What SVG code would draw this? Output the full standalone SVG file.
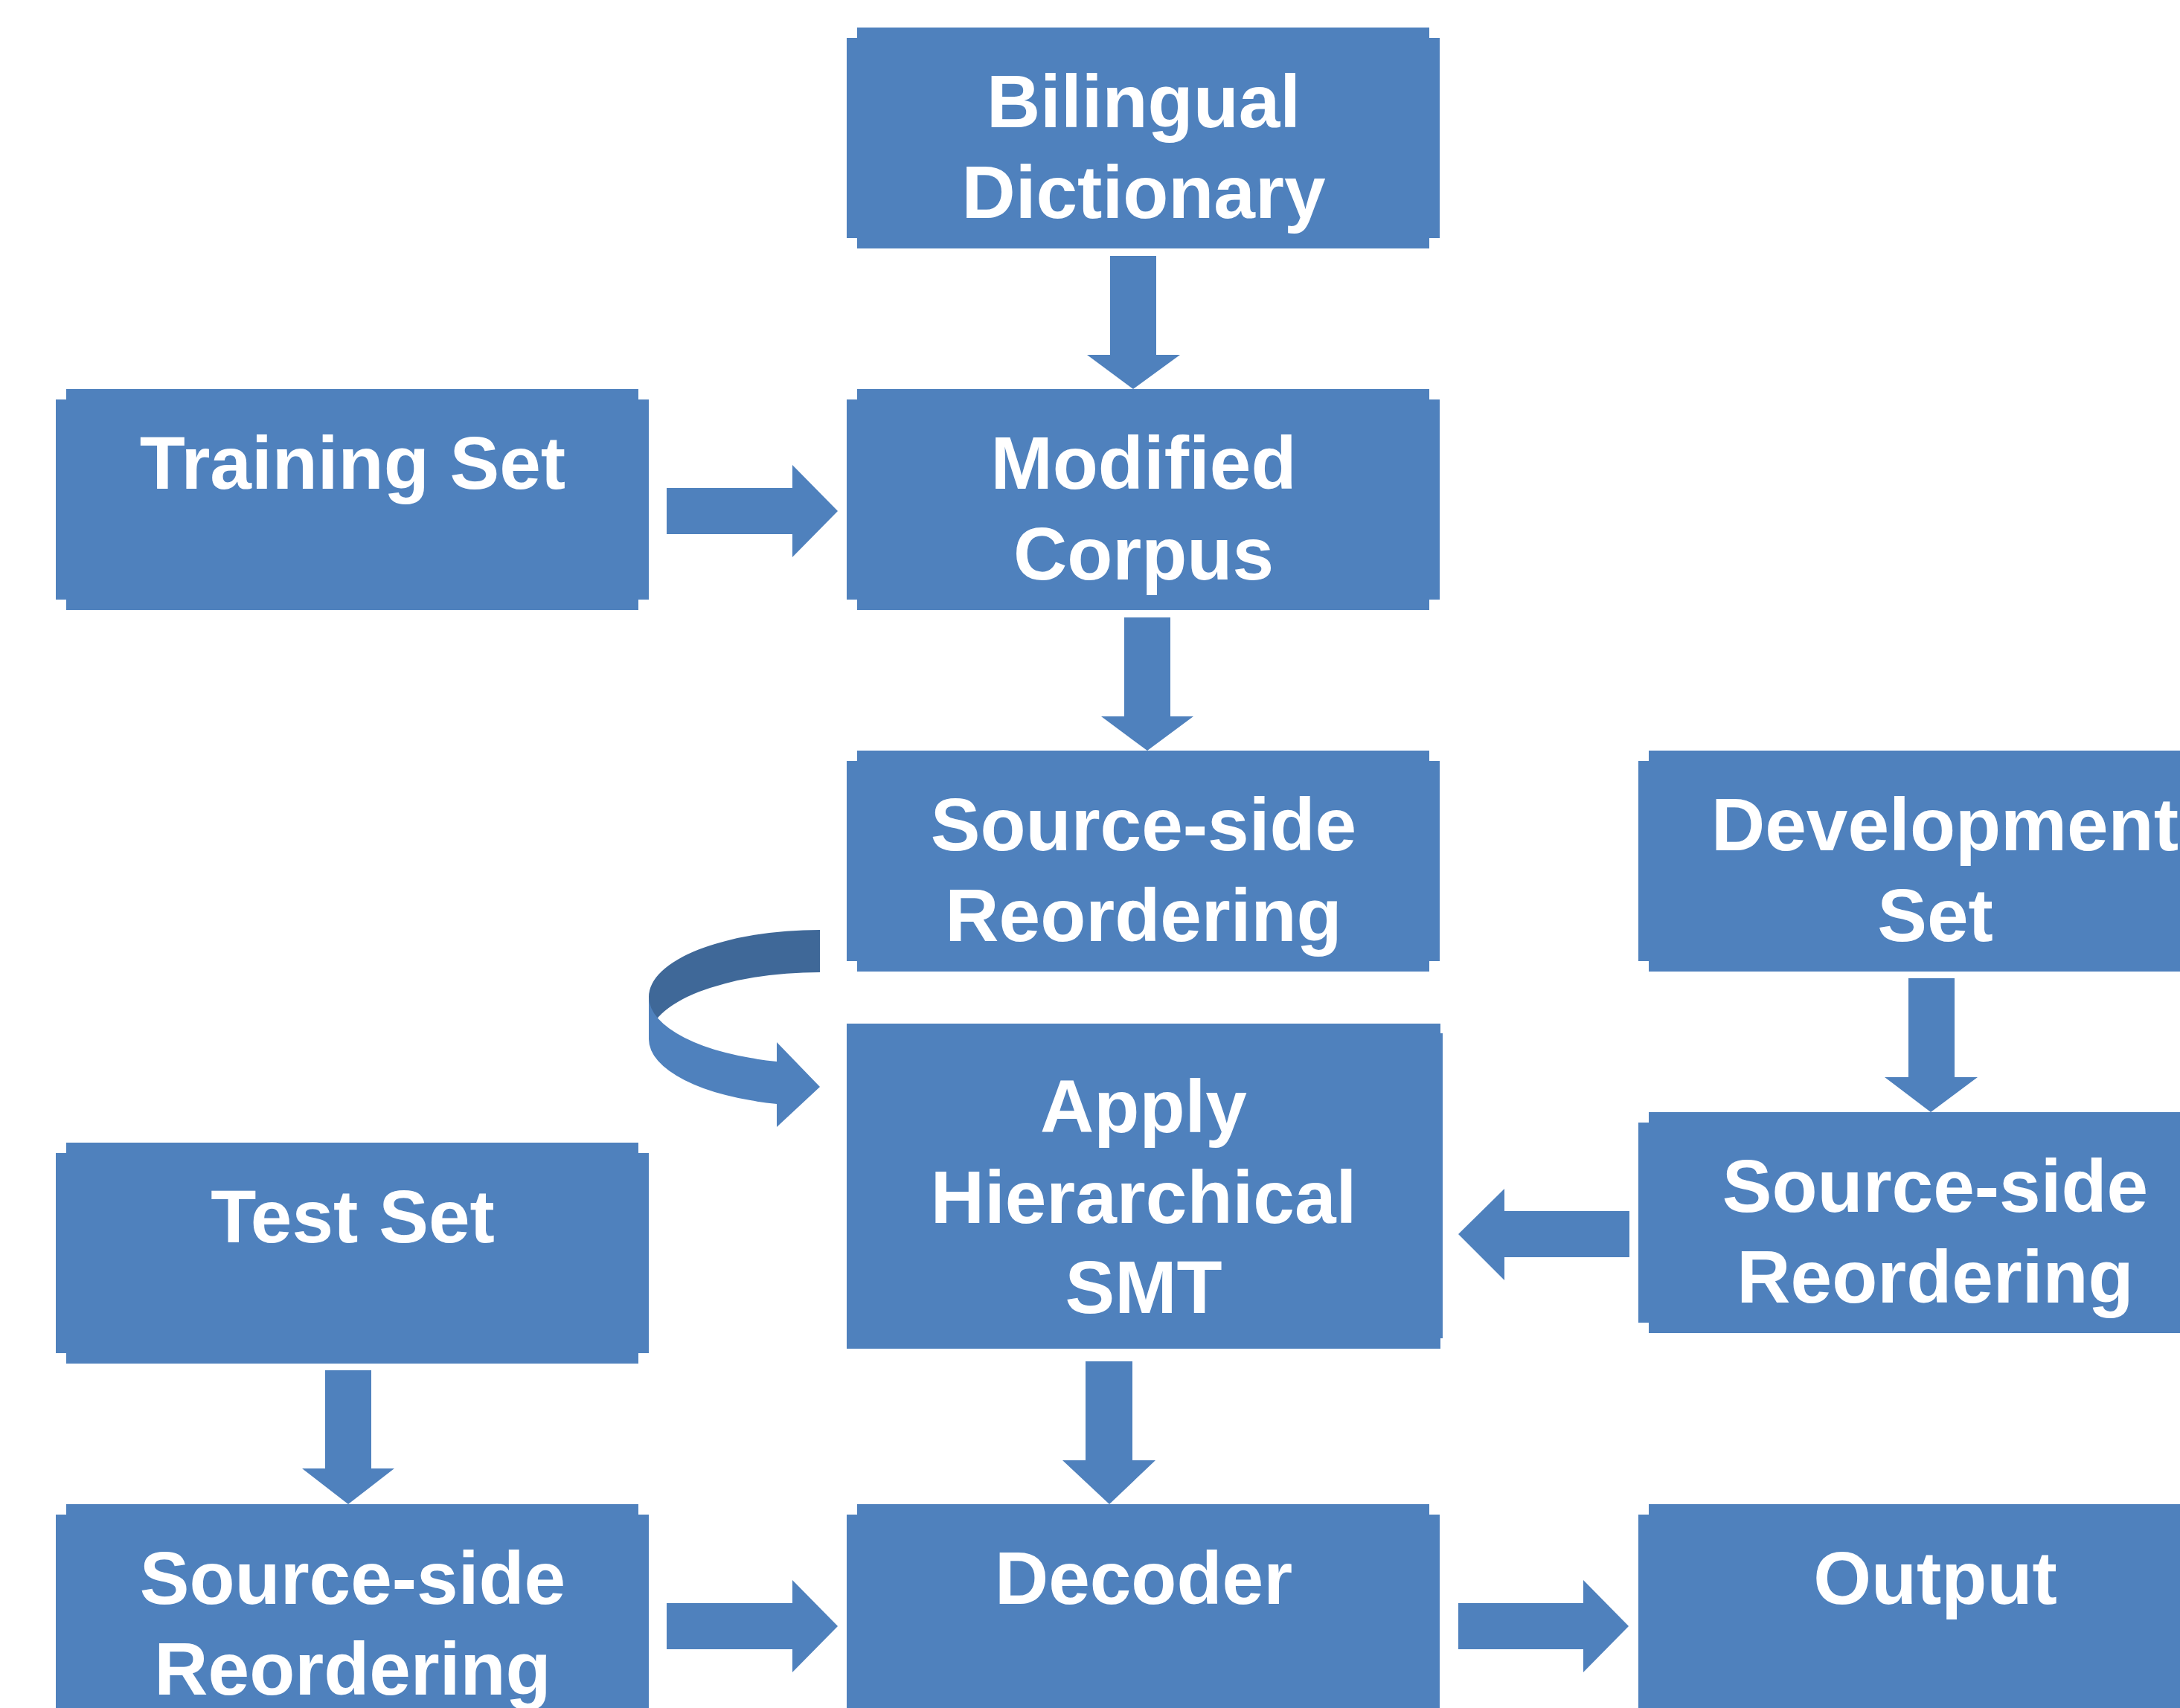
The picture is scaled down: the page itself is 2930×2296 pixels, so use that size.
<svg xmlns="http://www.w3.org/2000/svg" xmlns:xlink="http://www.w3.org/1999/xlink" width="2930" height="2296" viewBox="0 0 2930 2296">
<style>
.box{fill:#4F81BD}
.arr{fill:#4F81BD}
.dark{fill:#3F6898}
text{font-family:"Liberation Sans",Arial,sans-serif;font-weight:bold;font-size:100px;fill:#FFFFFF;text-anchor:middle}
</style>
<defs>
<path id="nb" d="M14,0 H783 V14 H797 V283 H783 V297 H14 V283 H0 V14 H14 Z"/>
</defs>
<rect width="2930" height="2296" fill="#FFFFFF"/>
<g id="connectors">
<polygon class="arr" points="1492,344 1554,344 1554,477 1586,477 1523,523 1461,477 1492,477"/>
<polygon class="arr" points="896,656 1065,656 1065,625 1126,687 1065,749 1065,718 896,718"/>
<polygon class="arr" points="1511,830 1573,830 1573,963 1604,963 1542,1009 1480,963 1511,963"/>
<polygon class="arr" points="2565,1315 2627,1315 2627,1448 2658,1448 2595,1495 2533,1448 2565,1448"/>
<polygon class="arr" points="2190,1628 2022,1628 2022,1598 1960,1659 2022,1721 2022,1690 2190,1690"/>
<polygon class="arr" points="1459,1830 1522,1830 1522,1963 1553,1963 1491,2022 1428,1963 1459,1963"/>
<polygon class="arr" points="437,1842 499,1842 499,1974 530,1974 468,2022 406,1974 437,1974"/>
<polygon class="arr" points="896,2155 1065,2155 1065,2124 1126,2186 1065,2248 1065,2217 896,2217"/>
<polygon class="arr" points="1960,2155 2128,2155 2128,2124 2189,2186 2128,2248 2128,2217 1960,2217"/>
<g id="loop-arrow">
<path class="dark" d="M1102,1250 A230,90 0 0,0 872,1340 L872,1397 A230,90 0 0,1 1102,1307 Z"/>
<path class="arr" d="M872,1340 A230,90 0 0,0 1044,1427 L1044,1401 L1102,1461 L1044,1515 L1044,1484 A230,90 0 0,1 872,1397 Z"/>
</g>
</g>
<g id="n-bilingual"><use xlink:href="#nb" class="box" x="1138" y="37"/><text x="1537" y="171">Bilingual</text><text x="1537" y="293">Dictionary</text></g>
<g id="n-training"><use xlink:href="#nb" class="box" x="75" y="523"/><text x="474" y="657">Training Set</text></g>
<g id="n-modified"><use xlink:href="#nb" class="box" x="1138" y="523"/><text x="1537" y="657">Modified</text><text x="1537" y="779">Corpus</text></g>
<g id="n-source-mid"><use xlink:href="#nb" class="box" x="1138" y="1009"/><text x="1537" y="1143">Source-side</text><text x="1537" y="1265">Reordering</text></g>
<g id="n-development"><use xlink:href="#nb" class="box" x="2202" y="1009"/><text x="2614" y="1143">Development</text><text x="2601" y="1265">Set</text></g>
<g id="n-apply"><rect class="box" x="1138" y="1376" width="798" height="437"/><rect class="box" x="1935" y="1389" width="4" height="410"/><text x="1537" y="1522">Apply</text><text x="1537" y="1644">Hierarchical</text><text x="1537" y="1765">SMT</text></g>
<g id="n-source-right"><use xlink:href="#nb" class="box" x="2202" y="1495"/><text x="2601" y="1629">Source-side</text><text x="2601" y="1751">Reordering</text></g>
<g id="n-test"><use xlink:href="#nb" class="box" x="75" y="1536"/><text x="474" y="1670">Test Set</text></g>
<g id="n-source-bl"><use xlink:href="#nb" class="box" x="75" y="2022"/><text x="474" y="2156">Source-side</text><text x="474" y="2278">Reordering</text></g>
<g id="n-decoder"><use xlink:href="#nb" class="box" x="1138" y="2022"/><text x="1537" y="2156">Decoder</text></g>
<g id="n-output"><use xlink:href="#nb" class="box" x="2202" y="2022"/><text x="2601" y="2156">Output</text></g>
</svg>
